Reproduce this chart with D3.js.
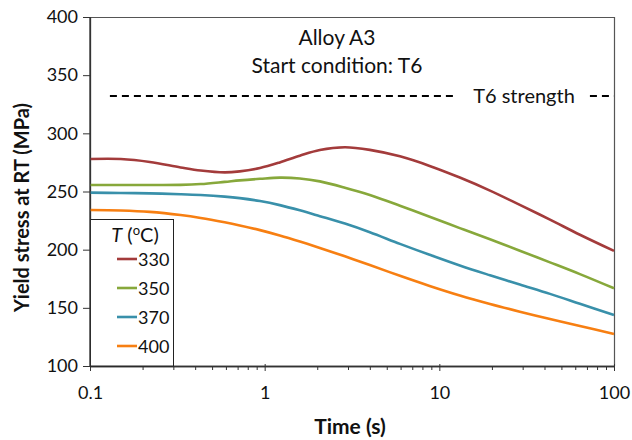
<!DOCTYPE html>
<html lang="en">
    <head>
        <meta charset="utf-8">
        <title>Yield stress vs time</title>
        <script type="text/javascript" src="https://cdnjs.cloudflare.com/ajax/libs/d3/7.8.5/d3.min.js"></script>
        <style>
            body { margin: 0; background: #fff; }
            svg text { font-family: Lato, "Open Sans", sans-serif; fill: #111; }
        </style>
    </head>
    <body>
        <script type="text/javascript">

            // time points (s), shared by all series
            var times = [0.1, 0.15, 0.22, 0.33, 0.43, 0.59, 0.72, 0.94, 1.22, 1.59, 2.07, 2.88, 4.0, 5.95, 8.8, 13.1, 19.5, 28.9, 43, 63.8, 100];

            var s330 = [277.9, 277.9, 275.4, 270.7, 268, 266.4, 267.3, 270.2, 275, 280.8, 285.7, 288, 285.8, 280.2, 272, 262, 250.8, 238.5, 225.8, 212.8, 198.9];
            var s350 = [255.6, 255.6, 255.6, 255.7, 256.4, 258.3, 259.6, 260.9, 261.9, 261.2, 258.7, 253.3, 247, 237.8, 228.3, 218.5, 208.9, 199.1, 189.1, 179, 166.8];
            var s370 = [249, 248.7, 248.4, 247.7, 247, 245.6, 244.3, 241.8, 238.3, 233.8, 228.8, 222.4, 215, 205, 195.6, 186.4, 178, 170, 162, 153.5, 143.8];
            var s400 = [234.1, 233.7, 232.5, 229.8, 227.3, 223.5, 220.8, 216.8, 212.2, 207, 201.5, 194.3, 186.8, 177.5, 168.8, 160.6, 153.3, 146.7, 140.4, 134.4, 127.5];

            var temps = ["330", "350", "370", "400"];
            var colors = ["#A33B3B", "#87A83B", "#3990AA", "#F77F12"];

            var yTicks = [100, 150, 200, 250, 300, 350, 400];
            var xMajor = [0.1, 1, 10, 100];

            // T6 strength reference line and the gap for its label
            var t6Value = 332;
            var t6Segments = [[0.13, 12.3], [72.8, 100]];

            var w = 632;
            var h = 440;
            var pLeft = 90, pRight = 614, pTop = 17, pBottom = 366;

            var svg = d3.select("body")
                .append("svg")
                .attr("width", w)
                .attr("height", h);

            var xScale = d3.scaleLog()
                .domain([0.1, 100])
                .range([pLeft, pRight]);

            var yScale = d3.scaleLinear()
                .domain([100, 400])
                .range([pBottom, pTop]);

            // frame (top and right)
            svg.append("path")
                .attr("d", "M" + pLeft + "," + (pTop + 0.5) + "H" + (pRight + 0.5) + "V" + pBottom)
                .attr("fill", "none")
                .attr("stroke", "#555")
                .attr("stroke-width", 1.2);

            // y axis
            var yAxis = d3.axisLeft(yScale)
                .tickValues(yTicks)
                .tickSize(7)
                .tickPadding(5)
                .tickSizeOuter(0);

            var gy = svg.append("g")
                .attr("transform", "translate(" + pLeft + ",0)")
                .call(yAxis);
            gy.selectAll("text").style("font-size", "18px");

            // x axis, minor ticks then major ticks
            var xMinor = [];
            for (var d = 0.1; d < 100; d *= 10) {
                for (var k = 2; k <= 9; k++) xMinor.push(d * k);
            }

            svg.append("g")
                .attr("transform", "translate(0," + pBottom + ")")
                .call(d3.axisBottom(xScale).tickValues(xMinor).tickSize(4).tickFormat("").tickSizeOuter(0));

            var gx = svg.append("g")
                .attr("transform", "translate(0," + pBottom + ")")
                .call(d3.axisBottom(xScale)
                    .tickValues(xMajor)
                    .tickSize(5)
                    .tickPadding(15)
                    .tickSizeOuter(0)
                    .tickFormat(function(d){ return String(d); }));
            gx.selectAll("text").style("font-size", "18px");
            gx.selectAll(".tick line").attr("y1", -2);

            svg.selectAll(".domain").attr("stroke", "#333").attr("stroke-width", 1.3);
            svg.selectAll(".tick line").attr("stroke", "#333");

            // axis titles
            svg.append("text")
                .attr("transform", "translate(29," + ((pTop + pBottom) / 2 + 16) + ") rotate(-90)")
                .attr("text-anchor", "middle")
                .style("font-size", "20px")
                .style("font-weight", "bold")
                .text("Yield stress at RT (MPa)");

            svg.append("text")
                .attr("x", 350)
                .attr("y", 434)
                .attr("text-anchor", "middle")
                .style("font-size", "21px")
                .style("font-weight", "bold")
                .text("Time (s)");

            // annotations
            svg.append("text")
                .attr("x", 337)
                .attr("y", 45)
                .attr("text-anchor", "middle")
                .style("font-size", "21px")
                .text("Alloy A3");

            svg.append("text")
                .attr("x", 337)
                .attr("y", 73)
                .attr("text-anchor", "middle")
                .style("font-size", "21px")
                .text("Start condition: T6");

            svg.selectAll(".t6line")
                .data(t6Segments)
                .enter()
                .append("line")
                .attr("class", "t6line")
                .attr("x1", function(d){ return xScale(d[0]); })
                .attr("x2", function(d){ return xScale(d[1]); })
                .attr("y1", yScale(t6Value))
                .attr("y2", yScale(t6Value))
                .attr("stroke", "#000")
                .attr("stroke-width", 2)
                .attr("stroke-dasharray", "7,5");

            svg.append("text")
                .attr("x", 524)
                .attr("y", yScale(t6Value) + 7)
                .attr("text-anchor", "middle")
                .style("font-size", "20px")
                .text("T6 strength");

            // curves
            var series = [s330, s350, s370, s400];

            var line = d3.line()
                .x(function(d, i){ return xScale(times[i]); })
                .y(function(d){ return yScale(d); })
                .curve(d3.curveCatmullRom.alpha(0.5));

            svg.selectAll(".curve")
                .data(series)
                .enter()
                .append("path")
                .attr("class", "curve")
                .attr("d", line)
                .attr("fill", "none")
                .attr("stroke", function(d, i){ return colors[i]; })
                .attr("stroke-width", 2.6);

            // legend
            var legend = svg.append("g");

            legend.append("rect")
                .attr("x", pLeft + 0.5)
                .attr("y", 219.5)
                .attr("width", 83)
                .attr("height", pBottom - 219.5)
                .attr("fill", "#fff")
                .attr("stroke", "#222")
                .attr("stroke-width", 1);

            var lt = legend.append("text")
                .attr("x", 135)
                .attr("y", 242)
                .attr("text-anchor", "middle")
                .style("font-size", "20px");
            lt.append("tspan").style("font-style", "italic").text("T");
            lt.append("tspan").text(" (");
            lt.append("tspan").attr("dy", -7).style("font-size", "13px").text("o");
            lt.append("tspan").attr("dy", 7).text("C)");

            var items = legend.selectAll(".item")
                .data(temps)
                .enter()
                .append("g")
                .attr("class", "item")
                .attr("transform", function(d, i){ return "translate(0," + (259 + i * 29) + ")"; });

            items.append("line")
                .attr("x1", 117)
                .attr("x2", 137)
                .attr("stroke", function(d, i){ return colors[i]; })
                .attr("stroke-width", 2.6);

            items.append("text")
                .attr("x", 138)
                .attr("y", 6.5)
                .style("font-size", "18px")
                .text(function(d){ return d; });

            // redraw the left axis line over the legend box
            svg.append("line")
                .attr("x1", pLeft).attr("x2", pLeft)
                .attr("y1", pTop).attr("y2", pBottom)
                .attr("stroke", "#333")
                .attr("stroke-width", 1.3);

        </script>
    </body>
</html>
